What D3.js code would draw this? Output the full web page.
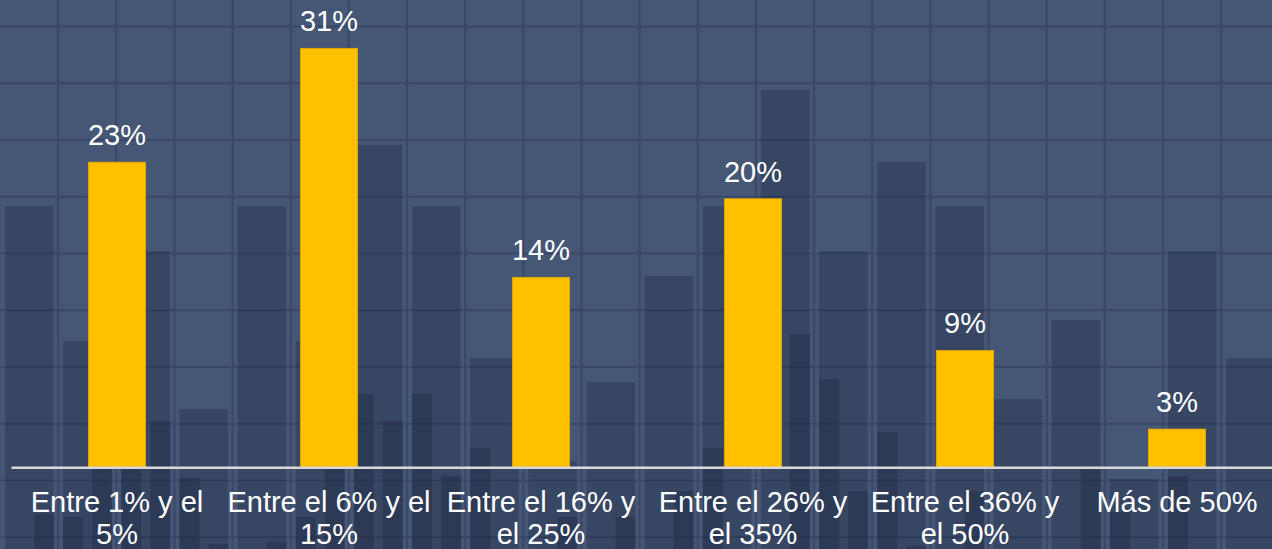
<!DOCTYPE html>
<html>
<head>
<meta charset="utf-8">
<script src="https://cdn.jsdelivr.net/npm/d3@7"></script>
<style>
  body { margin: 0; background: #465675; }
  svg { display: block; }
</style>
</head>
<body>
<svg id="chart" width="1272" height="549"></svg>
<script>
// chart data
const categories = [
  ["Entre 1% y el", "5%"],
  ["Entre el 6% y el", "15%"],
  ["Entre el 16% y", "el 25%"],
  ["Entre el 26% y", "el 35%"],
  ["Entre el 36% y", "el 50%"],
  ["Más de 50%"]
];
const values = [22.5, 30.9, 14.0, 19.8, 8.6, 2.8];

// background texture (slide picture): heights of the wide and narrow
// shaded columns, measured up from the bottom edge
const bgWide = [343, 208, 298, 140, 343, 208, 404, 343, 191, 88, 167,
  273, 343, 459, 298, 387, 343, 150, 229, 70, 298, 191];
const bgNarrow = [0, 35, 32, 109, 109, 128, 71, 5, 0, 7, 32, 109, 155, 128,
  155, 73, 101, 0, 0, 32, 0, 32, 0, 58, 101, 0, 0, 215, 170, 58, 117, 3, 0,
  58, 0, 0, 0, 82, 37, 0, 73, 0, 0];

const svg = d3.select("svg#chart");
const W = +svg.attr("width");
const H = +svg.attr("height");

/**
 * Draws the dark blue grid background with the shaded columns.
 */
function drawBackground() {
  const gridX = d3.scaleLinear().domain([0, 1]).range([0, 58.15]);
  const gridY = d3.scaleLinear().domain([0, 1]).range([26.6, 83.35]);
  const colX = d3.scaleLinear().domain([0, 1]).range([5, 63.15]);
  const bgY = d3.scaleLinear().domain([0, H]).range([H, 0]);

  svg.append("rect")
      .attr("width", W)
      .attr("height", H)
      .attr("fill", "#465675");

  const grid = svg.append("g")
      .attr("stroke", "#3a4766")
      .attr("stroke-width", 2);
  grid.selectAll("line.v")
      .data(d3.range(1, 22))
      .join("line")
      .attr("class", "v")
      .attr("x1", (d) => gridX(d))
      .attr("x2", (d) => gridX(d))
      .attr("y1", 0)
      .attr("y2", H);
  grid.selectAll("line.h")
      .data(d3.range(0, 10))
      .join("line")
      .attr("class", "h")
      .attr("x1", 0)
      .attr("x2", W)
      .attr("y1", (d) => gridY(d))
      .attr("y2", (d) => gridY(d));

  svg.append("g").selectAll("rect")
      .data(bgWide)
      .join("rect")
      .attr("x", (d, i) => colX(i))
      .attr("width", 48.5)
      .attr("y", (d) => bgY(d))
      .attr("height", (d) => d)
      .attr("fill", "rgb(30,40,65)")
      .attr("fill-opacity", 0.35);

  svg.append("g").selectAll("rect")
      .data(bgNarrow)
      .join("rect")
      .attr("x", (d, i) => colX(i / 2))
      .attr("width", 20)
      .attr("y", (d) => bgY(d))
      .attr("height", (d) => d)
      .attr("fill", "rgb(30,40,65)")
      .attr("fill-opacity", 0.38);
}

/**
 * Draws the bars, their value labels and the category axis.
 */
function drawBars() {
  const x = d3.scaleBand()
      .domain(d3.range(values.length))
      .range([11, 1283])
      .paddingInner(0.73)
      .paddingOuter(0.365);
  const y = d3.scaleLinear().domain([0, 31]).range([467, 47]);

  svg.append("g").selectAll("rect")
      .data(values)
      .join("rect")
      .attr("x", (d, i) => x(i))
      .attr("width", x.bandwidth())
      .attr("y", (d) => y(d))
      .attr("height", (d) => y(0) - y(d))
      .attr("fill", "#ffc000")
      .attr("stroke", "#e0a800")
      .attr("stroke-width", 0.8);

  svg.append("g").selectAll("text")
      .data(values)
      .join("text")
      .attr("x", (d, i) => x(i) + x.bandwidth() / 2)
      .attr("y", (d) => y(d) - 17)
      .attr("text-anchor", "middle")
      .attr("fill", "#ffffff")
      .style("font", "29px 'Liberation Sans', Arial, sans-serif")
      .text((d) => Math.round(d) + "%");

  const axis = svg.append("g")
      .attr("transform", "translate(0," + (y(0) + 0.3) + ")")
      .call(d3.axisBottom(x).tickSize(0).tickFormat(""));
  axis.select(".domain")
      .attr("stroke", "#d9d9d9")
      .attr("stroke-width", 2.5);

  const labels = svg.append("g").selectAll("text")
      .data(categories)
      .join("text")
      .attr("text-anchor", "middle")
      .attr("fill", "#ffffff")
      .style("font", "29px 'Liberation Sans', Arial, sans-serif");
  labels.selectAll("tspan")
      .data((d, i) => d.map((line) => ({line, i})))
      .join("tspan")
      .attr("x", (d) => x(d.i) + x.bandwidth() / 2)
      .attr("y", (d, k) => 511.7 + k * 31.8)
      .text((d) => d.line);
}

drawBackground();
drawBars();
</script>
</body>
</html>
